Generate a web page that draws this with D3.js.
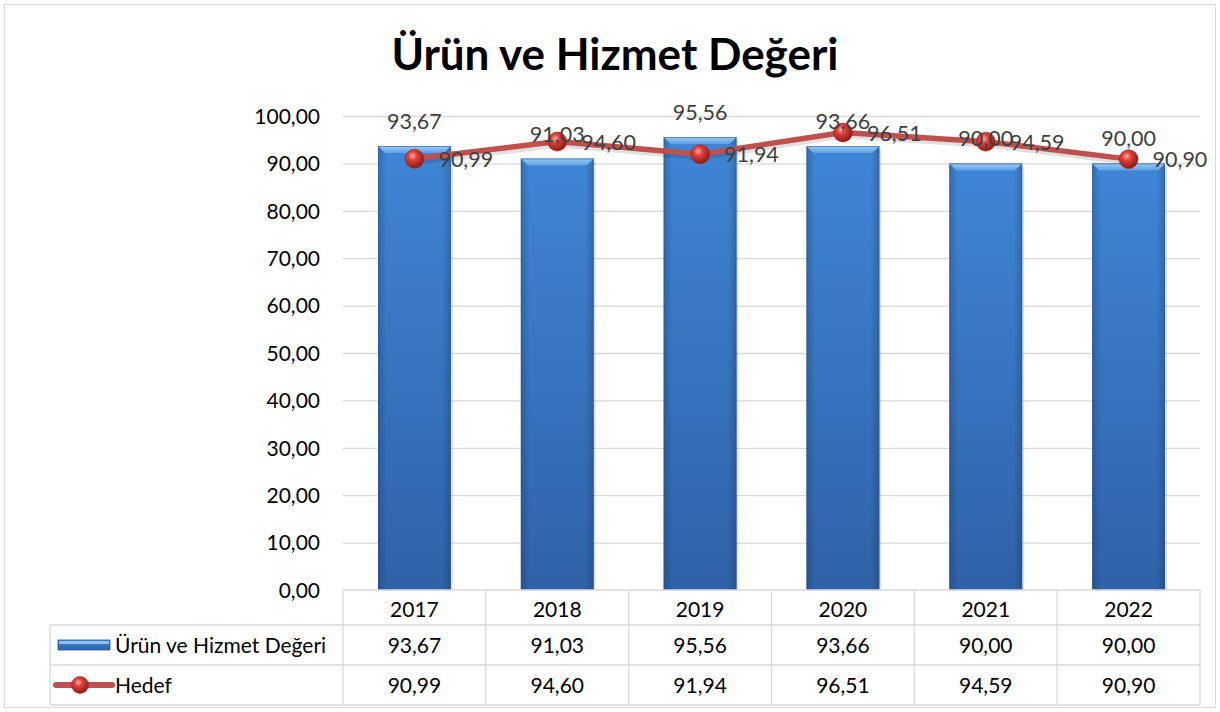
<!DOCTYPE html>
<html><head><meta charset="utf-8">
<script src="https://cdn.jsdelivr.net/npm/d3@7"></script>
<style>body{margin:0;background:#fff}svg{display:block}</style>
</head><body>
<script>
const title = "Ürün ve Hizmet Değeri";
const categories = ["2017","2018","2019","2020","2021","2022"];
const barName = "Ürün ve Hizmet Değeri";
const barValues = [93.67, 91.03, 95.56, 93.66, 90.00, 90.00];
const lineName = "Hedef";
const lineValues = [90.99, 94.60, 91.94, 96.51, 94.59, 90.90];
const yTicks = [0,10,20,30,40,50,60,70,80,90,100];

const W = 1220, H = 712;
const fmt = v => v.toFixed(2).replace(".", ",");
const font = "Lato, 'Open Sans', sans-serif";

const svg = d3.select("body").append("svg").attr("width", W).attr("height", H);
const defs = svg.append("defs");

const bg = defs.append("linearGradient").attr("id","barGrad").attr("x1",0).attr("y1",0).attr("x2",0).attr("y2",1);
bg.append("stop").attr("offset","0%").attr("stop-color","#3f86d6");
bg.append("stop").attr("offset","100%").attr("stop-color","#2f62a8");
const bh = defs.append("linearGradient").attr("id","barSide").attr("x1",0).attr("y1",0).attr("x2",1).attr("y2",0);
bh.append("stop").attr("offset","0%").attr("stop-color","#000").attr("stop-opacity",0.18);
bh.append("stop").attr("offset","12%").attr("stop-color","#000").attr("stop-opacity",0);
bh.append("stop").attr("offset","88%").attr("stop-color","#000").attr("stop-opacity",0);
bh.append("stop").attr("offset","100%").attr("stop-color","#000").attr("stop-opacity",0.18);
const topG = defs.append("linearGradient").attr("id","barTop").attr("x1",0).attr("y1",0).attr("x2",0).attr("y2",1);
topG.append("stop").attr("offset","0%").attr("stop-color","#9fcbf3");
topG.append("stop").attr("offset","100%").attr("stop-color","#5ba0e6");
const rg = defs.append("radialGradient").attr("id","ball").attr("cx","40%").attr("cy","35%").attr("r","65%");
rg.append("stop").attr("offset","0%").attr("stop-color","#ffb0a8");
rg.append("stop").attr("offset","35%").attr("stop-color","#e0403a");
rg.append("stop").attr("offset","100%").attr("stop-color","#8e1a16");

// chart border
svg.append("rect").attr("x",4.5).attr("y",4.5).attr("width",W-9).attr("height",H-9)
  .attr("fill","#fff").attr("stroke","#d9d9d9").attr("stroke-width",1);

svg.append("text").attr("x",615).attr("y",70).attr("text-anchor","middle")
  .attr("font-family",font).attr("font-weight","bold")
  .attr("font-size",44).attr("fill","#000").text(title);

const left = 343, right = 1200, yTop = 116, yBot = 590;
const x = d3.scaleBand().domain(categories).range([left,right]).paddingInner(0.49).paddingOuter(0.245);
const xc = d3.scaleBand().domain(categories).range([left,right]);
const y = d3.scaleLinear().domain([0,100]).range([yBot,yTop]);

// gridlines
svg.append("g").selectAll("line").data(yTicks.filter(t=>t>0)).join("line")
  .attr("x1",left).attr("x2",right).attr("y1",d=>y(d)+0.5).attr("y2",d=>y(d)+0.5)
  .attr("stroke","#d9d9d9").attr("stroke-width",1.3);

// y axis labels
const yAxis = d3.axisLeft(y).tickValues(yTicks).tickFormat(fmt).tickSize(0).tickPadding(0);
const ya = svg.append("g").attr("transform",`translate(${320},0)`).call(yAxis);
ya.select(".domain").remove();
ya.selectAll("text").attr("font-family",font).attr("font-size",21).attr("fill","#000").attr("dy","0.35em");

// bars
const bars = svg.append("g");
categories.forEach((c,i)=>{
  const bx = x(c), bw = x.bandwidth(), by = y(barValues[i]), bhgt = yBot - by;
  bars.append("rect").attr("x",bx+2).attr("y",by+3).attr("width",bw).attr("height",bhgt-3)
    .attr("fill","#000").attr("opacity",0.12);
  bars.append("rect").attr("x",bx).attr("y",by).attr("width",bw).attr("height",bhgt).attr("fill","url(#barGrad)");
  bars.append("rect").attr("x",bx).attr("y",by).attr("width",bw).attr("height",bhgt).attr("fill","url(#barSide)");
  bars.append("path").attr("d",`M${bx},${by} L${bx+bw},${by} L${bx+bw-7},${by+7} L${bx+7},${by+7} Z`).attr("fill","url(#barTop)");
  bars.append("rect").attr("x",bx+0.5).attr("y",by+0.5).attr("width",bw-1).attr("height",bhgt-1)
    .attr("fill","none").attr("stroke","#2a5a98").attr("stroke-width",1).attr("opacity",0.6);
});

// line
const cx = c => xc(c) + xc.bandwidth()/2;
const line = d3.line().x((d,i)=>cx(categories[i])).y(d=>y(d));
svg.append("path").datum(lineValues).attr("d",line).attr("fill","none")
  .attr("stroke","#000").attr("stroke-opacity",0.12).attr("stroke-width",6).attr("transform","translate(1,3)");
svg.append("path").datum(lineValues).attr("d",line).attr("fill","none")
  .attr("stroke","#c0504d").attr("stroke-width",5.5).attr("stroke-linejoin","round");
svg.append("g").selectAll("circle").data(lineValues).join("circle")
  .attr("cx",(d,i)=>cx(categories[i])).attr("cy",d=>y(d)).attr("r",9.5)
  .attr("fill","url(#ball)").attr("stroke","#9c2a26").attr("stroke-width",0.6);

// labels
svg.append("g").selectAll("text").data(barValues).join("text")
  .attr("x",(d,i)=>cx(categories[i])).attr("y",d=>y(d)-17)
  .attr("text-anchor","middle").attr("font-family",font).attr("font-size",21.5).attr("fill","#404040").text(fmt);
svg.append("g").selectAll("text").data(lineValues).join("text")
  .attr("x",(d,i)=>cx(categories[i])+24).attr("y",d=>y(d)+8)
  .attr("text-anchor","start").attr("font-family",font).attr("font-size",21.5).attr("fill","#404040").text(fmt);

// data table
const tbl = svg.append("g").attr("stroke","#d9d9d9").attr("stroke-width",1.3);
const tLeft = 50, r0 = 590, r1 = 625, r2 = 665, r3 = 705;
tbl.append("line").attr("x1",left).attr("x2",right).attr("y1",r0).attr("y2",r0);
[r1,r2,r3].forEach(r=>tbl.append("line").attr("x1",tLeft).attr("x2",right).attr("y1",r).attr("y2",r));
tbl.append("line").attr("x1",tLeft).attr("x2",tLeft).attr("y1",r1).attr("y2",r3);
categories.forEach(c=>tbl.append("line").attr("x1",xc(c)).attr("x2",xc(c)).attr("y1",r0).attr("y2",r3));
tbl.append("line").attr("x1",right).attr("x2",right).attr("y1",r0).attr("y2",r3);

const tt = svg.append("g").attr("font-family",font).attr("font-size",21).attr("fill","#000").attr("text-anchor","middle");
categories.forEach((c,i)=>{
  tt.append("text").attr("x",cx(c)).attr("y",(r0+r1)/2+2).attr("dy","0.36em").text(c);
  tt.append("text").attr("x",cx(c)).attr("y",(r1+r2)/2).attr("dy","0.36em").text(fmt(barValues[i]));
  tt.append("text").attr("x",cx(c)).attr("y",(r2+r3)/2).attr("dy","0.36em").text(fmt(lineValues[i]));
});
// legend keys
svg.append("rect").attr("x",58).attr("y",640).attr("width",52).attr("height",10).attr("fill","url(#barGrad)").attr("stroke","#2a5a98").attr("stroke-width",0.8);
svg.append("rect").attr("x",59).attr("y",641).attr("width",50).attr("height",3).attr("fill","#8fc0ef");
svg.append("line").attr("x1",56).attr("x2",112).attr("y1",685).attr("y2",685).attr("stroke","#c0504d").attr("stroke-width",6).attr("stroke-linecap","round");
svg.append("circle").attr("cx",80).attr("cy",685).attr("r",8.5).attr("fill","url(#ball)").attr("stroke","#9c2a26").attr("stroke-width",0.6);
tt.append("text").attr("x",115).attr("y",(r1+r2)/2).attr("dy","0.36em").attr("text-anchor","start").text(barName);
tt.append("text").attr("x",115).attr("y",(r2+r3)/2).attr("dy","0.36em").attr("text-anchor","start").text(lineName);
</script>
</body></html>
